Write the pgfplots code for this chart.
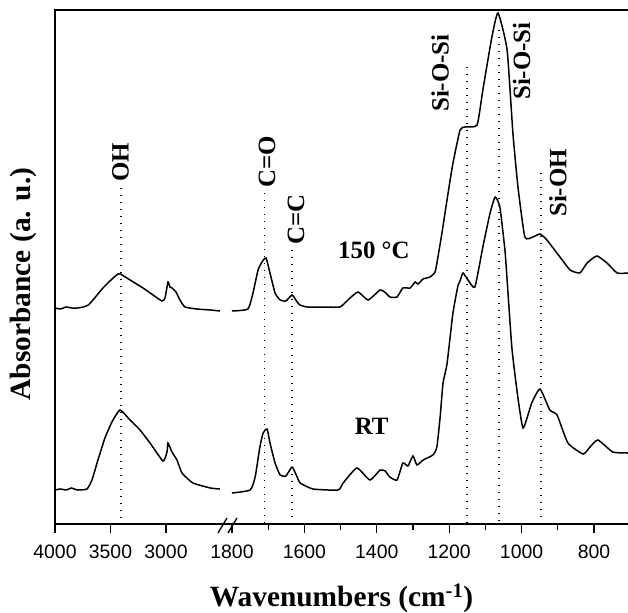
\documentclass[border=0pt]{standalone}
\usepackage{fontspec}
\setmainfont{Liberation Serif}
\newfontfamily\tickfont{Liberation Sans}
\usepackage{pgfplots}
\pgfplotsset{compat=1.18}

% spectra (150 C upper, RT lower), wavenumbers in cm^-1, absorbance in arbitrary units
\begin{document}
\begin{tikzpicture}
\path[use as bounding box] (-55bp,-89bp) rectangle (573bp,524bp);
\begin{axis}[
    at={(0,0)}, anchor=south west,
    scale only axis,
    width=573bp, height=514bp,
    % broken wavenumber axis: 4000-2470 compressed, 1800-706 expanded
    x coord trafo/.code={\pgfmathparse{ifthenelse(#1>2200,(4000-#1)*0.111,177+(1800-#1)*0.362)}},
    xmin=4000, xmax=706,
    ymin=0, ymax=514,
    xtick={4000,3500,3000,1800,1600,1400,1200,1000,800},
    xticklabels={4000,3500,3000,1800,1600,1400,1200,1000,800},
    minor xtick={1700,1500,1300,1100,900},
    ytick=\empty,
    axis x line*=bottom, axis y line*=left,
    axis line style={draw=none},
    tick align=outside,
    major tick length=9bp, minor tick length=6bp,
    every tick/.style={black, line width=1.2bp},
    xticklabel style={font=\tickfont\fontsize{19.5}{20}\selectfont, yshift=-8bp},
    /pgf/number format/assume math mode=true,
    xlabel={\bfseries Wavenumbers (cm\textsuperscript{-1})},
    ylabel={\bfseries Absorbance (a. u.)},
    every axis x label/.style={at={(axis description cs:0.5,-0.144)}, anchor=center, font=\fontsize{29.5}{30}\selectfont},
    every axis y label/.style={at={(axis description cs:-0.0558,0.467)}, rotate=90, anchor=center, font=\fontsize{29.5}{30}\selectfont},
    clip=false,
    cycle list={black, line width=1.5bp, smooth, tension=0.3\\},
]

% 150 C, high wavenumber part
\addplot coordinates {
(4000,216) (3950,215) (3900,217) (3850,216) (3800,216) (3745,217) (3700,219)
(3658,224) (3568,236) (3477,246) (3432,250) (3410,250) (3324,244) (3207,236)
(3117,229) (3036,223) (3009,226) (2982,242) (2965,237) (2946,236) (2910,232) (2874,224)
(2829,217) (2721,215) (2600,214) (2514,213)
};
% 150 C, low wavenumber part
\addplot coordinates {
(1800,213) (1756,215) (1742,231) (1728,254) (1717,262) (1706,266) (1695,251)
(1681,231) (1667,224) (1651,223) (1634,229) (1620,222) (1612,219) (1593,217)
(1557,217) (1502,217) (1480,224) (1452,232) (1424,224) (1391,234) (1375,231)
(1364,227) (1344,227) (1328,236) (1308,236) (1294,242) (1286,240) (1272,245)
(1253,247) (1239,252) (1231,267) (1220,291) (1206,324) (1190,360) (1170,394) (1156,397)
(1123,399) (1107,434) (1082,487) (1065,511) (1040,474) (1024,391) (1010,337)
(991,287) (969,287) (949,290) (930,284) (894,267) (866,254) (839,251)
(819,261) (792,268) (764,261) (736,251) (706,251)
};
% RT, high wavenumber part
\addplot coordinates {
(4000,34) (3950,35) (3900,34) (3850,36) (3800,34) (3712,35) (3667,44)
(3613,64) (3550,86) (3487,102) (3414,114) (3324,104) (3234,94) (3144,81)
(3027,63) (2991,72) (2982,81) (2946,72) (2901,64) (2856,51) (2757,41)
(2600,36) (2514,35)
};
% RT, low wavenumber part
\addplot coordinates {
(1800,31) (1750,34) (1736,47) (1723,77) (1714,91) (1703,95) (1695,81)
(1681,61) (1667,49) (1651,48) (1634,57) (1620,47) (1612,41) (1576,35)
(1507,34) (1493,41) (1455,56) (1419,44) (1391,54) (1377,53) (1364,47)
(1344,44) (1328,61) (1314,58) (1300,68) (1289,59) (1272,64) (1245,69)
(1234,77) (1225,107) (1217,141) (1206,160) (1190,210) (1176,238) (1170,243)
(1162,251) (1148,244) (1129,237) (1107,277) (1087,311) (1073,327) (1060,317)
(1046,274) (1040,244) (1027,177) (1013,134) (996,96) (972,121) (949,135)
(922,114) (902,109) (872,81) (830,70) (811,77) (789,84) (748,72) (706,71)
};

% band markers
\begin{scope}[line width=1.5bp, dash pattern=on 1.5bp off 5.5bp]
\draw (axis cs:3405,336) -- (axis cs:3405,0);
\draw (axis cs:1710,331) -- (axis cs:1710,0);
\draw (axis cs:1634,274) -- (axis cs:1634,0);
\draw (axis cs:1151,457) -- (axis cs:1151,0);
\draw (axis cs:1062,494) -- (axis cs:1062,0);
\draw (axis cs:946,351) -- (axis cs:946,0);
\end{scope}
\begin{scope}[every node/.style={rotate=90, anchor=west, inner sep=0pt, font=\bfseries\fontsize{25}{25}\selectfont}]
\node at (axis cs:3410,342) {OH};
\node at (axis cs:1703,336) {C=O};
\node at (axis cs:1623,279) {C=C};
\node at (axis cs:1225,412) {Si-O-Si};
\node at (axis cs:1000,424) {Si-O-Si};
\node at (axis cs:900,307) {Si-OH};
\end{scope}
\node[font=\bfseries\fontsize{25}{25}\selectfont] at (axis cs:1408,274) {150 °C};
\node[font=\bfseries\fontsize{25}{25}\selectfont] at (axis cs:1414,98) {RT};
\end{axis}
% frame: left, bottom, top (open on the right)
\draw[line width=1.4bp] (573bp,514bp) -- (0,514bp) -- (0,0) -- (573bp,0);
% axis break mark
\draw[line width=1.3bp] (163bp,-9bp) -- (172bp,6bp) (173bp,-9bp) -- (182bp,6bp);
\end{tikzpicture}
\end{document}
